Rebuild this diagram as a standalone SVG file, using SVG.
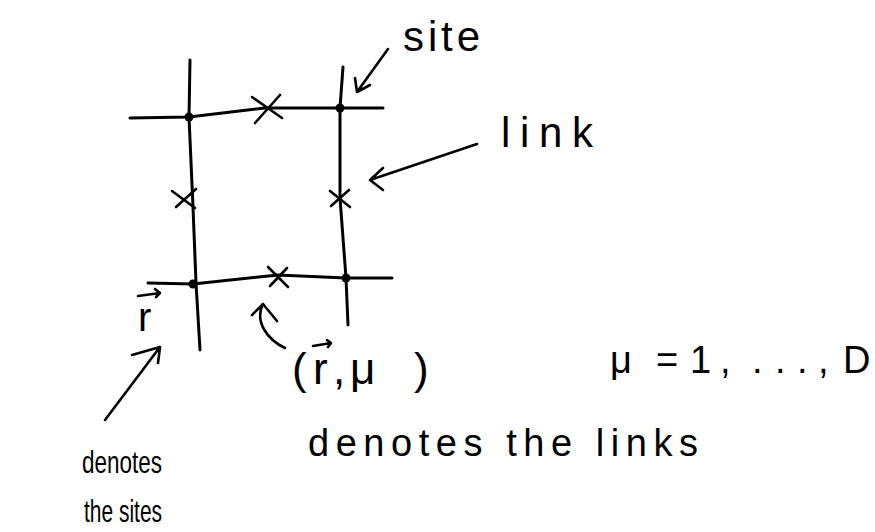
<svg xmlns="http://www.w3.org/2000/svg" width="875" height="532" viewBox="0 0 875 532">
<style>
.ln{fill:none;stroke:#000;stroke-width:3;stroke-linecap:round;stroke-linejoin:round}
.ar{fill:none;stroke:#000;stroke-width:2.6;stroke-linecap:round;stroke-linejoin:round}
.dot{fill:#000}
.t{font-family:"Liberation Sans","DejaVu Sans",sans-serif;fill:#000}
</style>
<rect width="875" height="532" fill="#fff"/>
<g id="lattice">
<path class="ln" d="M190,60 L189,117 L193,207 L196,283 L200,350"/>
<path class="ln" d="M343,67 L340,108 L340,198 L346,278 L348,325"/>
<path class="ln" d="M130,118 L189,117 L265,108 L340,108 L383,108"/>
<path class="ln" d="M148,283 L193,284 L278,275 L346,278 L392,278"/>
</g>
<g id="sites">
<circle class="dot" cx="189" cy="117" r="4.5"/>
<circle class="dot" cx="340" cy="108" r="4.5"/>
<circle class="dot" cx="193" cy="284" r="4.5"/>
<circle class="dot" cx="346" cy="278" r="4.5"/>
</g>
<g id="links">
<path class="ar" d="M252,97 L282,118 M255,123 L280,95"/>
<path class="ar" d="M268,267 L288,287 M270,286 L287,268"/>
<path class="ar" d="M172,191 L195,208 M176,207 L196,189"/>
<path class="ar" d="M330,191 L350,207 M331,206 L349,190"/>
</g>
<g id="connectors">
<path class="ar" d="M388,49 L357,92 M355,78 L357,92 L370,85"/>
<path class="ar" d="M477,144 L370,180 M383,168 L370,180 L383,190"/>
<path class="ar" d="M105,420 L160,347 M132,355 L160,347 L158,363"/>
<path class="ar" d="M285,348 C268,340 254,322 263,304 M252,315 L263,304 L277,321"/>
</g>
<g id="label-site"><text class="t" x="403" y="51" font-size="42" textLength="77" lengthAdjust="spacing">site</text></g>
<g id="label-link"><text class="t" x="501" y="147" font-size="42" textLength="92" lengthAdjust="spacing">link</text></g>
<g id="label-r">
<text class="t" x="138" y="331" font-size="40">r</text>
<path class="ar" d="M138,296 L160,293 M155,289 L160,293 L156,297"/>
</g>
<g id="label-rmu">
<text class="t" x="292 313 333 350 414" y="384" font-size="44">(r,μ)</text>
<path class="ar" d="M313,346 L331,343 M327,340 L331,343 L328,347"/>
</g>
<g id="label-mu"><text class="t" x="610 656 690 720 752 775 797 818 843" y="373" font-size="38">μ=1,...,D</text></g>
<g id="label-links"><text class="t" x="308" y="456" font-size="38" textLength="390" lengthAdjust="spacing">denotes the links</text></g>
<g id="label-sites">
<text class="t" x="82" y="473" font-size="32" textLength="80" lengthAdjust="spacingAndGlyphs">denotes</text>
<text class="t" x="84" y="522" font-size="32" textLength="78" lengthAdjust="spacingAndGlyphs">the sites</text>
</g>
</svg>
